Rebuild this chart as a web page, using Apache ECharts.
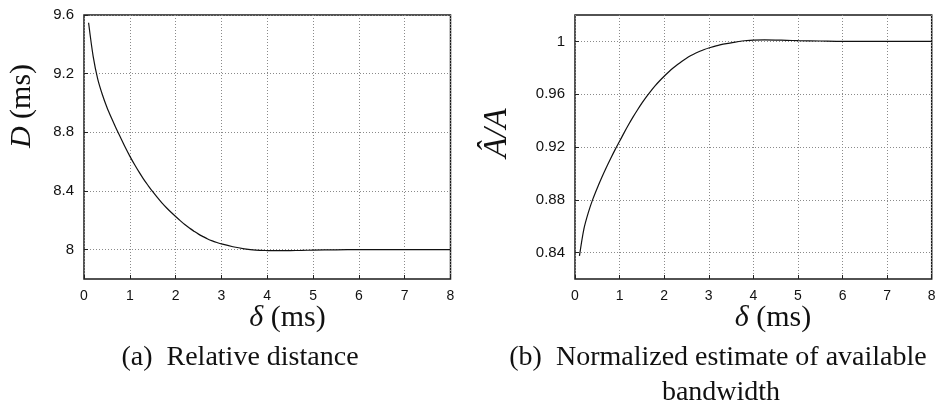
<!DOCTYPE html>
<html>
<head>
<meta charset="utf-8">
<script src="https://cdn.jsdelivr.net/npm/echarts@6/dist/echarts.min.js"></script>
<style>
  html, body { margin: 0; padding: 0; background: #fff; }
  #chart { width: 941px; height: 404px; }
</style>
</head>
<body>
<div id="chart"></div>
<script>
// (a) relative distance D (ms) versus probe spacing delta (ms)
const deltaA = [0.1, 0.2, 0.3, 0.4, 0.5, 0.6, 0.7, 0.8, 0.9, 1.0, 1.1, 1.2, 1.3, 1.4, 1.5, 1.6, 1.7, 1.8, 1.9, 2.0,
                2.1, 2.2, 2.3, 2.4, 2.5, 2.6, 2.7, 2.8, 2.9, 3.0, 3.25, 3.5, 3.75, 4.0, 4.25, 4.5, 4.75, 5.0, 5.5, 6.0, 7.0, 8.0];
const distD  = [9.547, 9.318, 9.163, 9.058, 8.971, 8.897, 8.828, 8.763, 8.698, 8.638, 8.582, 8.530, 8.481, 8.437, 8.395,
                8.356, 8.319, 8.286, 8.255, 8.226, 8.198, 8.171, 8.147, 8.126, 8.106, 8.089, 8.073, 8.060, 8.049, 8.039,
                8.020, 8.006, 7.997, 7.994, 7.993, 7.9935, 7.995, 7.997, 7.999, 8.0, 8.0, 8.0];

// (b) normalised estimate of available bandwidth versus delta (ms)
const deltaB = [0.1, 0.2, 0.3, 0.4, 0.5, 0.6, 0.7, 0.8, 0.9, 1.0, 1.1, 1.2, 1.3, 1.4, 1.5, 1.6, 1.7, 1.8, 1.9, 2.0,
                2.1, 2.2, 2.3, 2.4, 2.5, 2.6, 2.7, 2.8, 2.9, 3.0, 3.25, 3.5, 3.75, 4.0, 4.25, 4.5, 4.75, 5.0, 5.5, 6.0, 7.0, 8.0];
const ratio  = [0.8375, 0.858, 0.8705, 0.8805, 0.889, 0.8969, 0.9043, 0.9113, 0.918, 0.9243, 0.9307, 0.9368, 0.9426,
                0.948, 0.9532, 0.958, 0.9624, 0.9665, 0.9702, 0.9736, 0.9768, 0.9798, 0.98255, 0.98503, 0.98727,
                0.98926, 0.99101, 0.99254, 0.99385, 0.995, 0.9974, 0.9989, 1.0003, 1.0009, 1.0011, 1.001, 1.0008,
                1.0006, 1.0003, 1.0, 1.0, 1.0];

// axis ticks
const yTicksA = [8, 8.4, 8.8, 9.2, 9.6];
const yTicksB = [0.84, 0.88, 0.92, 0.96, 1];

// text
const xName = '{i|δ} (ms)';
const yNameA = '{i|D} (ms)';
const yNameB = '{h|Â/A}';
const captionA = '(a)  Relative distance';
const captionB = ['(b)  Normalized estimate of available', 'bandwidth'];

const pairs = (xs, ys) => xs.map((x, i) => [x, ys[i]]);

const chart = echarts.init(document.getElementById('chart'), null, { renderer: 'canvas' });

const tickFont = { fontFamily: '"Liberation Sans", Arial, sans-serif', color: '#111' };
const grid = (left, width) => ({
  left, top: 15, width, height: 264, show: true,
  borderColor: '#1a1a1a', borderWidth: 1.5, backgroundColor: 'transparent'
});
const dotted = { show: true, lineStyle: { color: '#8a8a8a', type: [1, 2], width: 1 } };

const xAxis = (gridIndex) => ({
  type: 'value', gridIndex, min: 0, max: 8, interval: 1,
  axisLine: { show: false },
  axisTick: { show: true, inside: true, length: 4, lineStyle: { color: '#222' } },
  axisLabel: Object.assign({ fontSize: 14, margin: 10 }, tickFont),
  splitLine: dotted
});
const yAxis = (gridIndex, min, max, ticks) => ({
  type: 'value', gridIndex, min, max,
  axisLine: { show: false },
  axisTick: { show: true, inside: true, length: 4, lineStyle: { color: '#222' }, customValues: ticks },
  axisLabel: Object.assign({ fontSize: 15, margin: 10, customValues: ticks }, tickFont),
  splitLine: dotted
});

const serif = '"Liberation Serif", "Times New Roman", serif';
const rich = {
  i: { fontStyle: 'italic', fontFamily: serif, fontSize: 30, fill: '#111' },
  h: { fontStyle: 'italic', fontFamily: serif, fontSize: 33, fill: '#111' }
};
const label = (text, x, y, size, rotation) => ({
  type: 'text', x, y, rotation: rotation || 0, silent: true,
  style: { text, fontFamily: serif, fontSize: size, fill: '#111', align: 'center', verticalAlign: 'middle', rich }
});

const line = (idx, xs, ys) => ({
  type: 'line', xAxisIndex: idx, yAxisIndex: idx, data: pairs(xs, ys), smooth: 0.3,
  showSymbol: false, lineStyle: { color: '#111', width: 1.2 }
});

chart.setOption({
  animation: false,
  backgroundColor: '#fff',
  grid: [grid(84, 366.5), grid(575, 356.7)],
  xAxis: [xAxis(0), xAxis(1)],
  yAxis: [yAxis(0, 7.8, 9.6, yTicksA), yAxis(1, 0.82, 1.02, yTicksB)],
  series: [line(0, deltaA, distD), line(1, deltaB, ratio)],
  graphic: [
    label(xName, 287.5, 318, 30),
    label(xName, 773, 318, 30),
    label(yNameA, 22.5, 106, 30, Math.PI / 2),
    label(yNameB, 497, 133, 33, Math.PI / 2),
    label(captionA, 240, 358, 28),
    label(captionB[0], 718, 358, 28),
    label(captionB[1], 721, 393, 28)
  ]
});
</script>
</body>
</html>
